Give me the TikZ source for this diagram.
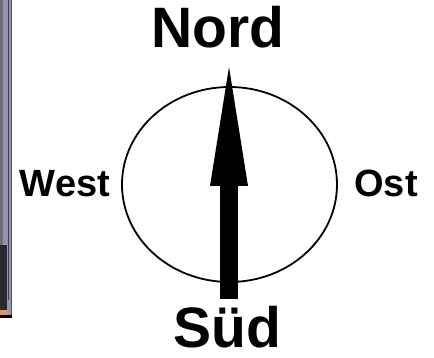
\documentclass[tikz,border=0pt]{standalone}
\usepackage{fontspec}
\setmainfont{Liberation Sans}
\usetikzlibrary{shapes.geometric}
\definecolor{frameA}{RGB}{150,148,172}
\definecolor{frameB}{RGB}{110,108,128}
\definecolor{frameC}{RGB}{60,58,75}
\definecolor{frameD}{RGB}{80,78,95}
\definecolor{frameE}{RGB}{40,40,50}
\definecolor{frameF}{RGB}{210,150,120}
\begin{document}
\begin{tikzpicture}[x=1pt,y=-1pt,
  bigl/.style={font=\fontsize{57}{60}\selectfont\bfseries,anchor=base,inner sep=0pt,text depth=0pt},
  smalll/.style={font=\fontsize{38}{42}\selectfont\bfseries,anchor=base,inner sep=0pt,text depth=0pt}]
\useasboundingbox (0,0) rectangle (434,358);
% left frame fragment
\fill[frameA] (0,0) rectangle (11,318);
\fill[frameB] (0,0) rectangle (3,318);
\draw[line width=1pt,frameC] (8,0) -- (8,300);
\draw[line width=1pt,frameD] (11,0) -- (11,318);
\fill[frameE] (0,245) rectangle (7,310);
\fill[frameF] (0,310) rectangle (8,315);
\fill[black] (0,315) rectangle (12,318);
% compass
\node[draw,ellipse,line width=1.8pt,minimum width=215pt,minimum height=195pt,inner sep=0pt] (dial) at (229.5,184.5) {};
\fill[black] (220,184) rectangle (238,299);
\fill[black] (210,186) -- (229,67) -- (248,186) -- cycle;
% labels
\node[bigl] (nord) at (218,48) {Nord};
\node[bigl] (sud) at (227,348) {Süd};
\node[smalll] (west) at (65,197) {West};
\node[smalll] (ost) at (386,197) {Ost};
\end{tikzpicture}
\end{document}
